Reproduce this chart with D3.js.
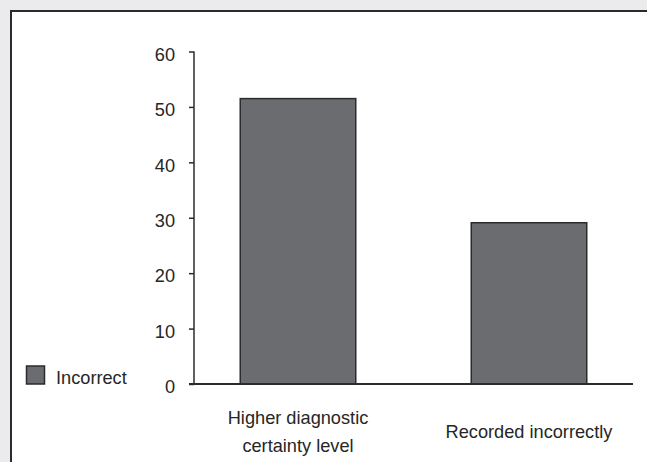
<!DOCTYPE html>
<html>
<head>
<meta charset="utf-8">
<script src="https://cdn.jsdelivr.net/npm/d3@7"></script>
<style>
  html, body { margin: 0; padding: 0; background: #ebebed; }
  svg { display: block; }
  text { font-family: "Liberation Sans", Arial, sans-serif; fill: #262626; }
</style>
</head>
<body>
<svg id="chart" width="647" height="462"></svg>
<script>
const categories = [["Higher diagnostic", "certainty level"], ["Recorded incorrectly"]];
const values = [51.5, 29.1];
const seriesName = "Incorrect";
const yTicks = [0, 10, 20, 30, 40, 50, 60];

const svg = d3.select("#chart");
const W = 647, H = 462;
const fs = 18.2;
const barFill = "#6b6c70";
const dark = "#2b2b2b";
const txt = "#262626";

// panel
svg.append("rect").attr("x", 11).attr("y", 11).attr("width", W).attr("height", H)
  .attr("fill", "#fff").attr("stroke", dark).attr("stroke-width", 2);

const y = d3.scaleLinear().domain([0, 60]).range([384, 51.5]);
const x = d3.scaleBand().domain(d3.range(categories.length))
  .range([182.5, 644.5]).paddingInner(0.5).paddingOuter(0.25);

// bars
svg.append("g").selectAll("rect").data(values).join("rect")
  .attr("x", (d, i) => x(i))
  .attr("width", x.bandwidth())
  .attr("y", d => y(d))
  .attr("height", d => y(0) - y(d))
  .attr("fill", barFill)
  .attr("stroke", dark)
  .attr("stroke-width", 1.5);

// y axis
const yAxis = d3.axisLeft(y).tickValues(yTicks).tickSize(5).tickPadding(14).tickFormat(d3.format("d"));
const gy = svg.append("g").attr("transform", "translate(194,0)").call(yAxis);
gy.select(".domain").remove();
gy.append("line").attr("x1", 0).attr("x2", 0).attr("y1", y(60)).attr("y2", y(0))
  .attr("stroke", dark).attr("stroke-width", 1.5);
gy.selectAll(".tick line").attr("stroke", dark).attr("stroke-width", 1.5);
gy.selectAll(".tick text").attr("font-size", fs).attr("font-family", "Liberation Sans, Arial, sans-serif")
  .attr("fill", txt).attr("dy", "0.48em");

// x axis baseline
svg.append("line").attr("x1", 189).attr("x2", 633).attr("y1", y(0)).attr("y2", y(0))
  .attr("stroke", dark).attr("stroke-width", 2);

// category labels
const lab = svg.append("g");
categories.forEach((lines, i) => {
  const cx = x(i) + x.bandwidth() / 2;
  const t = lab.append("text").attr("text-anchor", "middle").attr("font-size", fs);
  const lh = 28;
  const base = 438 - (lines.length - 1) * lh / 2;
  lines.forEach((s, k) => {
    t.append("tspan").attr("x", cx).attr("y", base + k * lh).text(s);
  });
});

// legend
svg.append("rect").attr("x", 26.5).attr("y", 366).attr("width", 18).attr("height", 18)
  .attr("fill", barFill).attr("stroke", dark).attr("stroke-width", 1.5);
svg.append("text").attr("x", 56).attr("y", 383.5).attr("font-size", fs).text(seriesName);
</script>
</body>
</html>
